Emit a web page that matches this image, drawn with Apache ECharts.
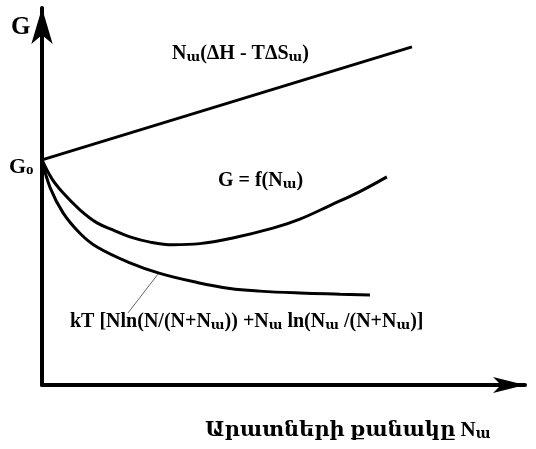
<!DOCTYPE html>
<html>
<head>
<meta charset="utf-8">
<script src="https://cdn.jsdelivr.net/npm/echarts@6/dist/echarts.min.js"></script>
<style>
  html, body { margin: 0; padding: 0; background: #fff; }
  #chart { width: 536px; height: 449px; }
</style>
</head>
<body>
<div id="chart"></div>
<script>
// values, x and y both in 0..100 units
const enthalpyX = [0, 76.6];
const enthalpyY = [59.7, 89.7];

const totalX = [0, 2.1, 4.4, 7.9, 11.4, 15.1, 18.2, 22.4, 27.1, 32.7, 39.5, 47.8, 53.4, 59.6, 65.8, 71.4];
const totalY = [59.7, 54.6, 50.9, 46.4, 43.0, 40.9, 39.3, 37.9, 37.2, 37.5, 39.0, 41.6, 44.0, 47.6, 51.3, 55.2];

const entropyX = [0, 1.7, 4.4, 7.9, 11.4, 18.2, 24.4, 32.1, 38.9, 45.1, 53.4, 61.7, 67.9];
const entropyY = [59.7, 52.3, 45.6, 40.2, 36.6, 32.4, 29.6, 27.2, 25.6, 24.9, 24.4, 24.1, 23.9];

const leaderX = [24.0, 17.8];
const leaderY = [29.4, 19.1];

const pairs = (xs, ys) => xs.map((x, i) => [x, ys[i]]);

const serif = "'Liberation Serif', 'DejaVu Serif', serif";
const main = { fontSize: 20, fontWeight: 'bold', fontFamily: serif, color: '#000' };
const sub = { fontSize: 13, fontWeight: 'bold', fontFamily: serif, color: '#000', padding: [7, 0, 0, 0] };

const chart = echarts.init(document.getElementById('chart'));

const lineStyle = { color: '#000', width: 3 };

chart.setOption({
  animation: false,
  grid: { left: 42, right: 11, top: 8, bottom: 64 },
  xAxis: {
    type: 'value', min: 0, max: 100,
    axisLine: { show: true, symbol: ['none', 'arrow'], symbolSize: [12, 32], lineStyle: { color: '#000', width: 4 } },
    axisTick: { show: false }, axisLabel: { show: false }, splitLine: { show: false }
  },
  yAxis: {
    type: 'value', min: 0, max: 100,
    axisLine: { show: true, symbol: ['none', 'arrow'], symbolSize: [16, 36], lineStyle: { color: '#000', width: 4 } },
    axisTick: { show: false }, axisLabel: { show: false }, splitLine: { show: false }
  },
  series: [
    { type: 'line', data: pairs(enthalpyX, enthalpyY), showSymbol: false, lineStyle },
    { type: 'line', data: pairs(totalX, totalY), showSymbol: false, smooth: 0.4, lineStyle },
    { type: 'line', data: pairs(entropyX, entropyY), showSymbol: false, smooth: 0.4, lineStyle },
    { type: 'line', data: pairs(leaderX, leaderY), showSymbol: false, lineStyle: { color: '#666', width: 1 } }
  ],
  graphic: [
    { type: 'text', left: 11, top: 15, style: { text: 'G', font: 'bold 25px ' + serif, fill: '#000' } },
    { type: 'text', left: 9, top: 156, style: {
        text: '{m|G}{s|o}', fill: '#000',
        rich: { m: { fontSize: 22, fontWeight: 'bold', fontFamily: serif }, s: { fontSize: 15, fontWeight: 'bold', fontFamily: serif, padding: [7, 0, 0, 0] } } } },
    { type: 'text', left: 172, top: 44, style: {
        text: '{m|N}{s|ա}{m|(ΔH - TΔS}{s|ա}{m|)}', fill: '#000', rich: { m: main, s: sub } } },
    { type: 'text', left: 218, top: 171, style: {
        text: '{m|G = f(N}{s|ա}{m|)}', fill: '#000', rich: { m: main, s: sub } } },
    { type: 'text', left: 70, top: 312, style: {
        text: '{m|kT [Nln(N/(N+N}{s|ա}{m|)) +N}{s|ա}{m| ln(N}{s|ա}{m| /(N+N}{s|ա}{m|)]}', fill: '#000',
        rich: { m: main, s: sub } } },
    { type: 'text', left: 205, top: 420, style: {
        text: '{m|Արատների քանակը N}{s|ա}', fill: '#000',
        rich: { m: { fontSize: 21, fontWeight: 'bold', fontFamily: serif }, s: { fontSize: 14, fontWeight: 'bold', fontFamily: serif, padding: [8, 0, 0, 0] } } } }
  ]
});
</script>
</body>
</html>
